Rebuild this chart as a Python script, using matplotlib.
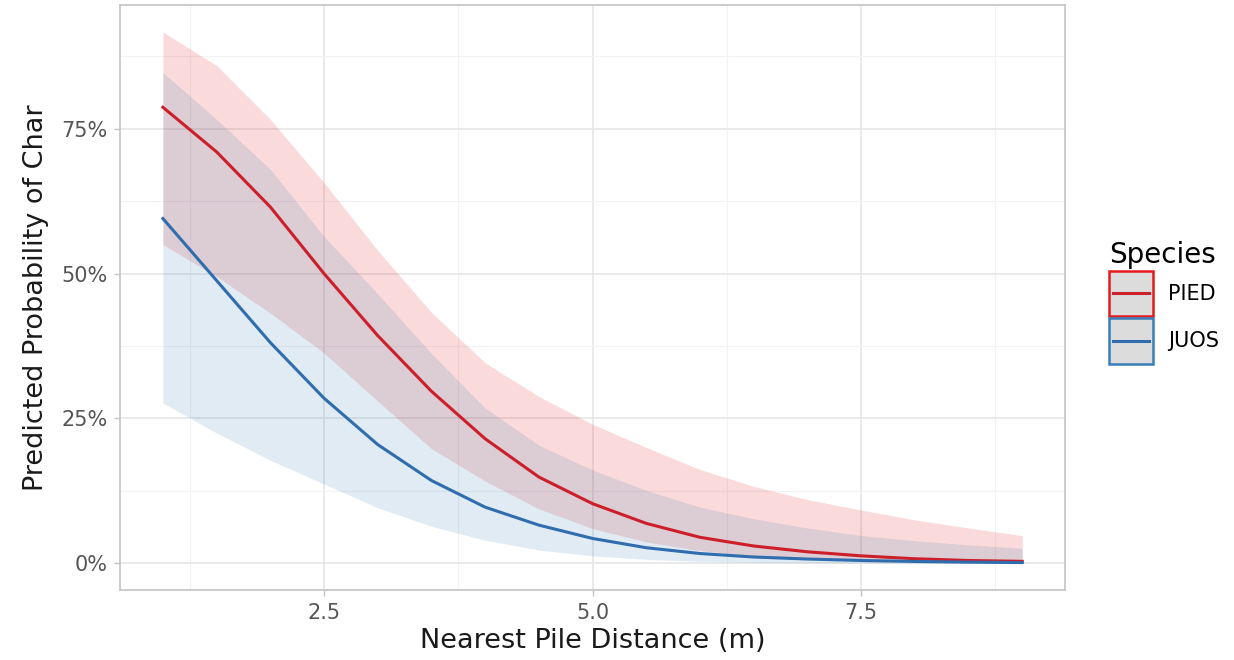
"""Predicted probability of char vs nearest pile distance, two species."""

import matplotlib

matplotlib.use("Agg")
from matplotlib import pyplot as plt
from matplotlib.legend_handler import HandlerBase
from matplotlib.lines import Line2D
from matplotlib.patches import Rectangle
from matplotlib.ticker import FixedLocator, PercentFormatter

# distance grid (m)
distance = [1.0, 1.5, 2.0, 2.5, 3.0, 3.5, 4.0, 4.5, 5.0, 5.5, 6.0, 6.5, 7.0, 7.5, 8.0, 8.5, 9.0]

# PIED: fit and 95% band
pied_fit = [0.787, 0.710, 0.615, 0.500, 0.393, 0.297, 0.215, 0.149, 0.103, 0.069, 0.045,
            0.030, 0.020, 0.013, 0.008, 0.005, 0.0035]
pied_lo = [0.550, 0.495, 0.432, 0.363, 0.280, 0.198, 0.142, 0.094, 0.060, 0.037, 0.022,
           0.013, 0.008, 0.0045, 0.0027, 0.0016, 0.0009]
pied_hi = [0.917, 0.859, 0.766, 0.657, 0.540, 0.433, 0.346, 0.288, 0.240, 0.200, 0.162,
           0.133, 0.110, 0.092, 0.075, 0.061, 0.048]

# JUOS: fit and 95% band
juos_fit = [0.595, 0.488, 0.381, 0.285, 0.205, 0.143, 0.097, 0.066, 0.043, 0.027, 0.017,
            0.011, 0.0075, 0.005, 0.0033, 0.0021, 0.0014]
juos_lo = [0.277, 0.225, 0.178, 0.137, 0.096, 0.064, 0.040, 0.023, 0.013, 0.007, 0.0035,
           0.0017, 0.0008, 0.0004, 0.0002, 0.0001, 0.0]
juos_hi = [0.847, 0.766, 0.680, 0.564, 0.465, 0.362, 0.268, 0.204, 0.161, 0.126, 0.097,
           0.077, 0.061, 0.048, 0.039, 0.032, 0.026]

species = ["PIED", "JUOS"]
x_ticks = [2.5, 5.0, 7.5]
y_ticks = [0.0, 0.25, 0.50, 0.75]


class KeyHandler(HandlerBase):
    """ggplot-like legend key: grey box with coloured border and a centred line."""

    def create_artists(self, legend, orig, xdescent, ydescent, width, height, fontsize, trans):
        edge, line_col = orig
        box = Rectangle((-xdescent, -ydescent), width, height, facecolor="#DCDCDC",
                        edgecolor=edge, linewidth=1.8, transform=trans)
        y_mid = -ydescent + height / 2
        ln = Line2D([-xdescent + 0.08 * width, -xdescent + 0.92 * width], [y_mid, y_mid],
                    color=line_col, lw=2.2, transform=trans)
        return [box, ln]


plt.rcParams["font.family"] = ["DejaVu Sans"]

fig = plt.figure(figsize=(12.34, 6.6), dpi=100)
ax = fig.add_axes([0.0972, 0.106, 0.766, 0.886])

red_fill, blue_fill = "#E41A1C", "#377EB8"
red_line, blue_line = "#CC1F2A", "#2F6DAF"

ax.fill_between(distance, pied_lo, pied_hi, color=red_fill, alpha=0.16, lw=0, zorder=2)
ax.fill_between(distance, juos_lo, juos_hi, color=blue_fill, alpha=0.15, lw=0, zorder=2)
ax.plot(distance, pied_fit, color=red_line, lw=2.2, zorder=3)
ax.plot(distance, juos_fit, color=blue_line, lw=2.2, zorder=3)

ax.set_xlim(0.6, 9.4)
ax.set_ylim(-0.046, 0.963)
ax.xaxis.set_major_locator(FixedLocator(x_ticks))
ax.xaxis.set_minor_locator(FixedLocator([1.25, 3.75, 6.25, 8.75]))
ax.yaxis.set_major_locator(FixedLocator(y_ticks))
ax.yaxis.set_minor_locator(FixedLocator([0.125, 0.375, 0.625, 0.875]))
ax.yaxis.set_major_formatter(PercentFormatter(1.0, decimals=0))

ax.grid(which="major", color="#E6E6E6", lw=1.2, zorder=0)
ax.grid(which="minor", color="#F2F2F2", lw=0.8, zorder=0)
ax.set_axisbelow(True)
for s in ax.spines.values():
    s.set_color("#C4C4C4")
    s.set_linewidth(1.2)
ax.tick_params(which="major", length=4, width=1.0, color="#C4C4C4",
               labelsize=15, labelcolor="#555555", pad=5)
ax.tick_params(which="minor", length=0)

ax.set_xlabel("Nearest Pile Distance (m)", fontsize=19.5, color="#1A1A1A", labelpad=4)
ax.set_ylabel("Predicted Probability of Char", fontsize=19.5, color="#1A1A1A", labelpad=9)

handles = [(red_fill, red_line), (blue_fill, blue_line)]
leg = fig.legend(handles, species, loc="center left", bbox_to_anchor=(0.892, 0.542),
                 frameon=False, fontsize=15, title="Species", title_fontsize=20,
                 handlelength=2.1, handleheight=3.0, handletextpad=0.75,
                 labelspacing=0.08, borderaxespad=0,
                 handler_map={tuple: KeyHandler()})
leg._legend_box.align = "left"

fig.savefig("out.png", dpi=100)
plt.close(fig)
